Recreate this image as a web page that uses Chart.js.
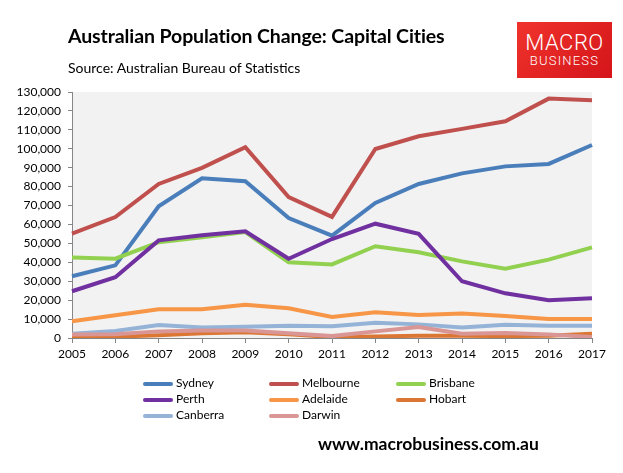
<!DOCTYPE html>
<html>
<head>
<meta charset="utf-8">
<script src="https://cdn.jsdelivr.net/npm/chart.js@4.4.0/dist/chart.umd.min.js"></script>
<style>
  body { margin: 0; background: #fff; font-family: Lato, "Liberation Sans", sans-serif; }
  #wrap { position: relative; width: 623px; height: 473px; overflow: hidden; }
  #chart { position: absolute; left: 0; top: 0; }
  .title { position: absolute; left: 68px; top: 24px; font-size: 19.5px; font-weight: bold; color: #000; white-space: nowrap; letter-spacing: -0.1px; }
  .source { position: absolute; left: 68px; top: 59px; font-size: 14px; color: #000; white-space: nowrap; }
  .logo { position: absolute; left: 517px; top: 22px; width: 95px; height: 56px;
          background: linear-gradient(135deg, #f0342c, #d4141a); color: #fff; text-align: center;
          font-family: Roboto, sans-serif; font-weight: 300; }
  .logo .a { font-size: 22px; line-height: 22px; margin-top: 10px; letter-spacing: 0.5px; }
  .logo .b { font-size: 13px; line-height: 14px; letter-spacing: 1.2px; }
  #legend { position: absolute; left: 0; top: 0; }
  .item { position: absolute; font-size: 12px; color: #000; white-space: nowrap; }
  .item span.line { display: inline-block; width: 30px; height: 4px; border-radius: 2px; vertical-align: middle; margin-right: 3px; }
  .footer { position: absolute; left: 318px; top: 433px; font-size: 17.5px; font-weight: bold; color: #000; white-space: nowrap; }
</style>
</head>
<body>
<div id="wrap">
  <canvas id="chart" width="623" height="473"></canvas>
  <div class="title">Australian Population Change: Capital Cities</div>
  <div class="source">Source: Australian Bureau of Statistics</div>
  <div class="logo"><div class="a">MACRO</div><div class="b">BUSINESS</div></div>
  <div id="legend"></div>
  <div class="footer">www.macrobusiness.com.au</div>
</div>
<script>
// anos
const years = ['2005', '2006', '2007', '2008', '2009', '2010', '2011', '2012', '2013', '2014', '2015', '2016', '2017'];

// variação anual por capital
const sydney    = [32600, 38400, 69600, 84400, 82800, 63400, 54100, 71400, 81400, 87000, 90700, 92000, 102000];
const melbourne = [55100, 63900, 81400, 89900, 100800, 74500, 64000, 99900, 106600, 110500, 114500, 126500, 125600];
const brisbane  = [42600, 41900, 50600, 53200, 56000, 40000, 38900, 48500, 45300, 40500, 36600, 41400, 47900];
const perth     = [24700, 32100, 51600, 54300, 56400, 41900, 52300, 60400, 55000, 30000, 23600, 19900, 21000];
const adelaide  = [8800, 12000, 15200, 15200, 17600, 15700, 11100, 13600, 12200, 13000, 11600, 10000, 10000];
const hobart    = [500, 700, 1500, 2500, 3000, 2000, 500, 800, 1200, 1200, 1000, 1200, 2200];
const canberra  = [2300, 3700, 6900, 5500, 6000, 6500, 6200, 8100, 7200, 5600, 7000, 6500, 6500];
const darwin    = [1800, 2000, 3500, 4000, 4000, 2500, 1000, 3500, 5800, 2300, 2700, 1900, 500];

const cityNames = ['Sydney', 'Melbourne', 'Brisbane', 'Perth', 'Adelaide', 'Hobart', 'Canberra', 'Darwin'];
const cityData = [sydney, melbourne, brisbane, perth, adelaide, hobart, canberra, darwin];
const cityColors = ['#4a7ebb', '#c0504d', '#92d050', '#7030a0', '#f79646', '#dc7633', '#95b3d7', '#d99694'];

const yMax = 130000;
const yStep = 10000;

// fundo cinza da área do gráfico
const plotBackground = {
    id: 'plotBackground',
    beforeDraw(chart) {
        const a = chart.chartArea;
        const ctx = chart.ctx;
        ctx.save();
        ctx.fillStyle = '#f2f2f2';
        ctx.fillRect(a.left, a.top, a.right - a.left, a.bottom - a.top);
        ctx.restore();
    }
};

const datasets = cityNames.map(function(name, i) {
    return {
        label: name,
        data: cityData[i],
        borderColor: cityColors[i],
        backgroundColor: cityColors[i],
        borderWidth: 4,
        pointRadius: 0,
        tension: 0,
        fill: false,
        order: cityNames.length - i
    };
});

const ctx = document.getElementById('chart').getContext('2d');
new Chart(ctx, {
    type: 'line',
    data: { labels: years, datasets: datasets },
    plugins: [plotBackground],
    options: {
        responsive: false,
        animation: false,
        layout: { padding: { left: 0, top: 92, right: 31, bottom: 105 } },
        plugins: {
            legend: { display: false },
            tooltip: { enabled: false }
        },
        scales: {
            x: {
                offset: false,
                grid: { display: true, drawOnChartArea: false, drawTicks: true, tickLength: 5, color: '#868686' },
                border: { display: true, color: '#868686', width: 1 },
                ticks: { color: '#000', font: { family: 'Lato', size: 12 }, autoSkip: false, maxRotation: 0, padding: 4 },
                afterFit: function(scale) { scale.height = 30; }
            },
            y: {
                min: 0,
                max: yMax,
                grid: { display: true, drawOnChartArea: false, drawTicks: true, tickLength: 4, color: '#868686' },
                border: { display: true, color: '#868686', width: 1 },
                ticks: {
                    stepSize: yStep,
                    color: '#000',
                    padding: 7,
                    font: { family: 'Lato', size: 12 },
                    callback: function(v) { return v.toLocaleString('en-US'); }
                },
                afterFit: function(scale) { scale.width = 72; }
            }
        }
    }
});

// legenda em 3 colunas
const legend = document.getElementById('legend');
const colX = [143, 269, 396];
const rowY = [375, 391, 407];
cityNames.forEach(function(name, i) {
    const div = document.createElement('div');
    div.className = 'item';
    div.style.left = colX[i % 3] + 'px';
    div.style.top = rowY[Math.floor(i / 3)] + 'px';
    div.innerHTML = '<span class="line" style="background:' + cityColors[i] + '"></span>' + name;
    legend.appendChild(div);
});
</script>
</body>
</html>
